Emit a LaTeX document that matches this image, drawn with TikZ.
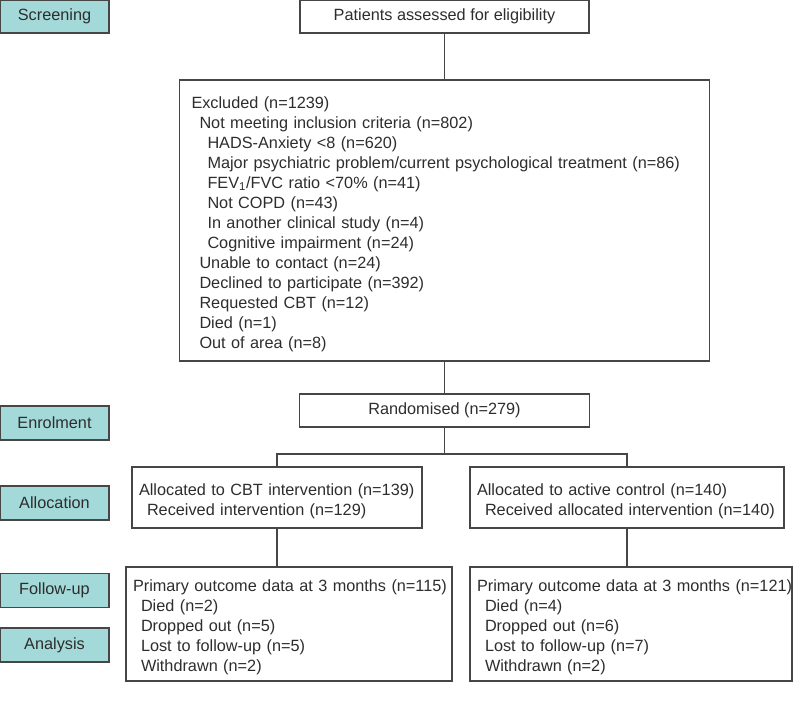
\documentclass[tikz,border=0pt]{standalone}
\usepackage{fontspec}
\setmainfont{Liberation Sans}
\usetikzlibrary{
  calc,
  positioning,
}
\definecolor{stagefill}{RGB}{163,217,216}
\definecolor{edge}{RGB}{70,70,70}
\definecolor{ink}{RGB}{45,45,45}
\newcommand{\ia}{\hspace*{6pt}}
\newcommand{\ib}{\hspace*{12pt}}
\tikzset{
  x = 0.75pt,
  y = -0.75pt,
  n/.style={
    draw=edge, line width=0.8pt, text=ink,
    inner sep=0pt, outer sep=0pt, font=\fontsize{12.2}{15}\selectfont,
  },
  stage/.style={n, fill=stagefill, minimum width=81.75pt, minimum height=25.5pt},
  lst/.style={n, align=left, inner xsep=5.25pt, text width=#1,
    execute at begin node=\rule{0pt}{14pt}},
  link/.style={draw=edge, line width=0.8pt},
}

\begin{document}
\begin{tikzpicture}
  \useasboundingbox (0,0) rectangle (793,703);
  % stages
  \node[stage, minimum height=24.75pt](Scr) at (54.5,16.5){Screening};
  \node[stage](Enr) at (54.5,423){Enrolment};
  \node[stage](All) at (54.5,503){Allocation};
  \node[stage](Fol) at (54.5,590.5){Follow-up};
  \node[stage](Ana) at (54.5,645){Analysis};
  %%
  \node[n, minimum width=216.75pt, minimum height=24.75pt](Pat) at (444.5,16.5)
    {Patients assessed for eligibility};
  \node[lst=379.5pt, inner xsep=9pt, minimum height=210.75pt, below=35.25pt of Pat](Excl){%
    Excluded (n=1239)\\
    \ia Not meeting inclusion criteria (n=802)\\
    \ib HADS-Anxiety <8 (n=620)\\
    \ib \mbox{Major psychiatric problem/current psychological treatment (n=86)}\\
    \ib FEV\textsubscript{1}/FVC ratio <70\% (n=41)\\
    \ib Not COPD (n=43)\\
    \ib In another clinical study (n=4)\\
    \ib Cognitive impairment (n=24)\\
    \ia Unable to contact (n=24)\\
    \ia Declined to participate (n=392)\\
    \ia Requested CBT (n=12)\\
    \ia Died (n=1)\\
    \ia Out of area (n=8)};
  \node[n, minimum width=217.5pt, minimum height=24.75pt, below=24.75pt of Excl](Rand)
    {Randomised (n=279)};
  \coordinate[below=20.25pt of Rand](Split);
  %%
  \node[lst=207pt, minimum height=45.75pt, anchor=north](CBT) at (277,467){%
    \mbox{Allocated to CBT intervention (n=139)}\\
    \ia Received intervention (n=129)};
  \node[lst=225pt, minimum height=45.75pt, anchor=north](Ctrl) at (627,467){%
    Allocated to active control (n=140)\\
    \ia \mbox{Received allocated intervention (n=140)}};
  \node[lst=234pt, minimum height=85.5pt, anchor=north](FuA) at (289,567){%
    \mbox{Primary outcome data at 3 months (n=115)}\\
    \ia Died (n=2)\\
    \ia Dropped out (n=5)\\
    \ia Lost to follow-up (n=5)\\
    \ia Withdrawn (n=2)};
  \node[lst=231pt, minimum height=85.5pt, anchor=north](FuB) at (631,567){%
    \mbox{Primary outcome data at 3 months (n=121)}\\
    \ia Died (n=4)\\
    \ia Dropped out (n=6)\\
    \ia Lost to follow-up (n=7)\\
    \ia Withdrawn (n=2)};
  %%
  \draw[link](Pat) -- (Excl);
  \draw[link](Excl) -- (Rand);
  \draw[link](Rand.south) -- (Split);
  \draw[link](CBT.north) |- (Split) -| (Ctrl.north);
  \draw[link](CBT.south) -- (CBT.south |- FuA.north);
  \draw[link](Ctrl.south) -- (Ctrl.south |- FuB.north);
\end{tikzpicture}
\end{document}
